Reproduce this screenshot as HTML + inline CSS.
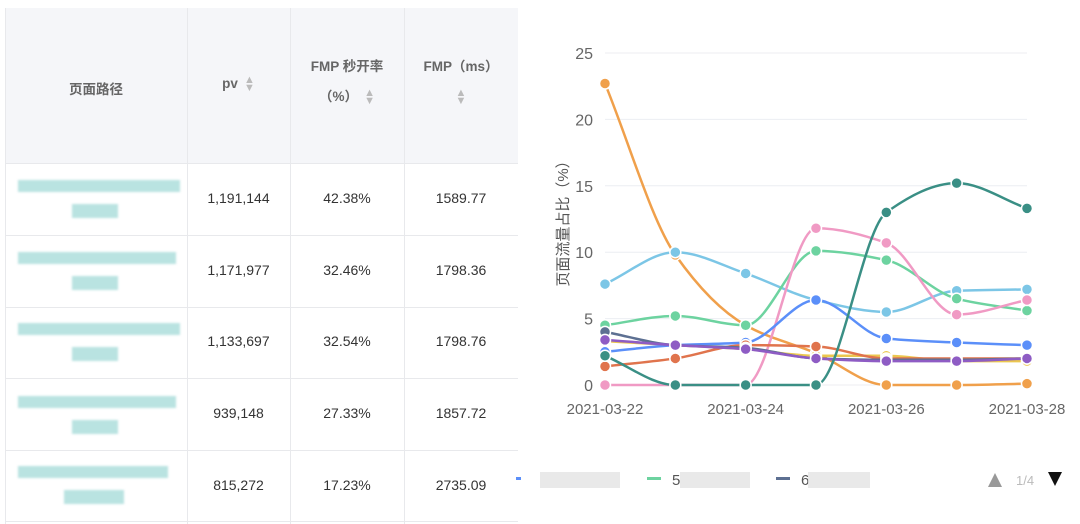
<!DOCTYPE html>
<html><head><meta charset="utf-8"><style>
body{margin:0;width:1080px;height:524px;background:#fff;font-family:"Liberation Sans","Noto Sans CJK SC",sans-serif;overflow:hidden;position:relative}
.c{position:absolute;box-sizing:border-box;text-align:center;font-size:14px;color:#333}
.h{color:#666;font-weight:bold;font-size:13.5px}
.vl{position:absolute;width:1px;background:#e8e9ec}
.hl{position:absolute;height:1px;background:#e8e9ec;left:5px;width:513px}
.bar{position:absolute;background:#b9e3e1;filter:blur(1px)}
.ar{display:inline-block;vertical-align:middle;margin-left:6px;color:#bbb;font-size:11px;line-height:8px}
</style></head><body>
<div style="position:absolute;left:5px;top:8px;width:513px;height:155px;background:#f5f6f9"></div>
<div class="vl" style="left:187px;top:8px;height:516px"></div>
<div class="vl" style="left:290px;top:8px;height:516px"></div>
<div class="vl" style="left:404px;top:8px;height:516px"></div>
<div class="vl" style="left:5px;top:8px;height:516px"></div>
<div class="hl" style="top:163px"></div><div class="hl" style="top:235px"></div><div class="hl" style="top:307px"></div><div class="hl" style="top:378px"></div><div class="hl" style="top:450px"></div><div class="hl" style="top:521px"></div>
<div class="c h" style="left:5px;top:78px;width:182px">页面路径</div>
<div class="c h" style="left:187px;top:76px;width:103px">pv<span class="ar">▲<br>▼</span></div>
<div class="c h" style="left:290px;top:52px;width:114px;line-height:30px">FMP 秒开率<br>（%）<span class="ar">▲<br>▼</span></div>
<div class="c h" style="left:404px;top:52px;width:114px;line-height:30px">FMP（ms）<br><span class="ar" style="margin:0">▲<br>▼</span></div>
<div class="bar" style="left:18px;top:180px;width:162px;height:12px"></div><div class="bar" style="left:72px;top:204px;width:46px;height:14px"></div>
<div class="bar" style="left:18px;top:252px;width:158px;height:12px"></div><div class="bar" style="left:72px;top:276px;width:46px;height:14px"></div>
<div class="bar" style="left:18px;top:323px;width:162px;height:12px"></div><div class="bar" style="left:72px;top:347px;width:46px;height:14px"></div>
<div class="bar" style="left:18px;top:396px;width:158px;height:12px"></div><div class="bar" style="left:72px;top:420px;width:46px;height:14px"></div>
<div class="bar" style="left:18px;top:466px;width:150px;height:12px"></div><div class="bar" style="left:64px;top:490px;width:60px;height:14px"></div>
<div class="c" style="left:187px;top:190px;width:103px">1,191,144</div><div class="c" style="left:290px;top:190px;width:114px">42.38%</div><div class="c" style="left:404px;top:190px;width:114px">1589.77</div>
<div class="c" style="left:187px;top:262px;width:103px">1,171,977</div><div class="c" style="left:290px;top:262px;width:114px">32.46%</div><div class="c" style="left:404px;top:262px;width:114px">1798.36</div>
<div class="c" style="left:187px;top:333px;width:103px">1,133,697</div><div class="c" style="left:290px;top:333px;width:114px">32.54%</div><div class="c" style="left:404px;top:333px;width:114px">1798.76</div>
<div class="c" style="left:187px;top:405px;width:103px">939,148</div><div class="c" style="left:290px;top:405px;width:114px">27.33%</div><div class="c" style="left:404px;top:405px;width:114px">1857.72</div>
<div class="c" style="left:187px;top:477px;width:103px">815,272</div><div class="c" style="left:290px;top:477px;width:114px">17.23%</div><div class="c" style="left:404px;top:477px;width:114px">2735.09</div>
<svg id="s" width="1080" height="524" style="position:absolute;left:0;top:0" font-family="Liberation Sans, sans-serif"></svg>
<script>
var s=document.getElementById('s'),h='';
function Y(v){return 385-v*13.28}function X(i){return 605+i*70.33}
for(var v=0;v<=25;v+=5){h+='<line x1="605" x2="1027" y1="'+Y(v)+'" y2="'+Y(v)+'" stroke="#eceef2"/>';h+='<text x="593" y="'+(Y(v)+6)+'" text-anchor="end" font-size="16" fill="#666">'+v+'</text>';}
['2021-03-22','2021-03-24','2021-03-26','2021-03-28'].forEach(function(t,k){h+='<text x="'+X(k*2)+'" y="414" text-anchor="middle" font-size="15" fill="#666">'+t+'</text>'});
h+='<text transform="translate(568,220) rotate(-90)" text-anchor="middle" font-size="15" fill="#555" font-family="Liberation Sans, Noto Sans CJK SC, sans-serif">页面流量占比（%）</text>';
var S=[['#f0a04b',[22.7,9.8,4.5,2.4,0,0,0.1]],['#7cc6e6',[7.6,10,8.4,6.4,5.5,7.1,7.2]],['#6dd3a0',[4.5,5.2,4.5,10.1,9.4,6.5,5.6]],['#f09ac4',[0,0,0,11.8,10.7,5.3,6.4]],['#ebc74f',[3.3,3,2.7,2.2,2.2,1.8,1.8]],['#5b8ff9',[2.5,3,3.2,6.4,3.5,3.2,3]],['#e0744d',[1.4,2,3,2.9,2,2,2]],['#5d7092',[4,3,2.8,2,1.9,1.9,2]],['#8e5cc4',[3.4,3,2.7,2,1.8,1.8,2]],['#3a8f85',[2.2,0,0,0,13,15.2,13.3]]];
S.forEach(function(q){var c=q[0],d=q[1],n=d.length,dl=[],m=[];
for(var i=0;i<n-1;i++)dl.push(d[i+1]-d[i]);
for(var i=0;i<n;i++){if(i==0)m.push(dl[0]);else if(i==n-1)m.push(dl[n-2]);else if(dl[i-1]*dl[i]<=0)m.push(0);else m.push(2/(1/dl[i-1]+1/dl[i]));}
var path='M'+X(0)+','+Y(d[0]);
for(var i=0;i<n-1;i++){path+=' C'+(X(i)+70.33/3)+','+Y(d[i]+m[i]/3)+' '+(X(i+1)-70.33/3)+','+Y(d[i+1]-m[i+1]/3)+' '+X(i+1)+','+Y(d[i+1]);}
h+='<path d="'+path+'" fill="none" stroke="'+c+'" stroke-width="2.5"/>';
d.forEach(function(v,i){h+='<circle cx="'+X(i)+'" cy="'+Y(v)+'" r="5.5" fill="'+c+'" stroke="#fff" stroke-width="1.5"/>'});});
h+='<rect x="516" y="477" width="5" height="3" fill="#5b8ff9"/><rect x="540" y="472" width="80" height="16" fill="#e4e4e4" opacity=".8"/>';
h+='<rect x="647" y="477" width="14" height="3" fill="#6dd3a0"/><text x="672" y="485" font-size="15" fill="#555">5</text><rect x="680" y="472" width="70" height="16" fill="#e4e4e4" opacity=".8"/>';
h+='<rect x="776" y="477" width="14" height="3" fill="#5d7092"/><text x="801" y="485" font-size="15" fill="#555">6</text><rect x="808" y="472" width="62" height="16" fill="#e4e4e4" opacity=".8"/>';
h+='<polygon points="988,487 1002,487 995,473" fill="#999"/><text x="1016" y="485" font-size="13" fill="#bbb">1/4</text><polygon points="1048,472 1062,472 1055,486" fill="#111"/>';
s.innerHTML=h;
</script>
</body></html>
